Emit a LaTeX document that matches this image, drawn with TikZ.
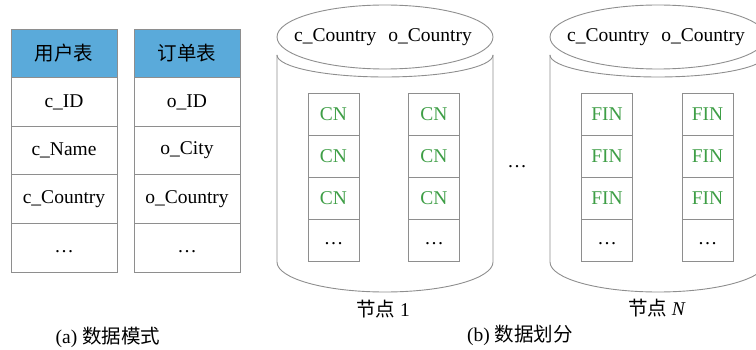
\documentclass[tikz,border=0pt]{standalone}
\usepackage{fontspec}
\setmainfont{Liberation Serif}
\newfontfamily\cjk{Noto Sans CJK SC}
\definecolor{hdrblue}{HTML}{5AAADA}
\definecolor{linegray}{HTML}{8E8E8E}
\definecolor{cngreen}{HTML}{3E9E46}
\tikzset{
  base/.style={font=\fontsize{19.5}{23}\selectfont, inner sep=0pt},
  cell/.style={base, draw=linegray, line width=0.9pt, minimum width=106pt, minimum height=48.6pt},
  hcell/.style={cell, fill=hdrblue},
  pcell/.style={base, draw=linegray, line width=0.9pt, minimum width=51pt, minimum height=42pt},
  gtext/.style={text=cngreen},
  cyl/.style={draw=linegray, line width=0.9pt},
  dots/.style={base, yshift=-3.5pt},
  lbl/.style={base}
}
\begin{document}
\begin{tikzpicture}[x=1pt,y=-1pt]
\useasboundingbox (0,0) rectangle (756,350);
\clip (0,0) rectangle (756,350);
% table 1
\node[hcell] (u0) at (64,53.3) {\cjk 用户表};
\node[cell] (u1) at (64,101.9) {c\_ID};
\node[cell] (u2) at (64,150.5) {c\_Name};
\node[cell] (u3) at (64,199.1) {c\_Country};
\node[cell] (u4) at (64,247.7) {};
\node[dots] (u4d) at (u4.center) {…};
% table 2
\node[hcell] (o0) at (187,53.3) {\cjk 订单表};
\node[cell] (o1) at (187,101.9) {o\_ID};
\node[cell] (o2) at (187,150.5) {o\_City};
\node[cell] (o3) at (187,199.1) {o\_Country};
\node[cell] (o4) at (187,247.7) {};
\node[dots] (o4d) at (o4.center) {…};
% cylinder 1
\draw[cyl] (277,55) -- (277,262) arc[start angle=180, end angle=360, x radius=108pt, y radius=30pt] -- (493,55);
\draw[cyl] (277,55) arc[start angle=180, end angle=360, x radius=108pt, y radius=22pt];
\draw[cyl] (385,37) ellipse [x radius=108pt, y radius=32pt];
\node[base] (lid1) at (383,37) {c\_Country\hspace{12pt}o\_Country};
\foreach \c/\x in {a/333.5,b/434}{
  \node[pcell,gtext] (p1\c1) at (\x,114) {CN};
  \node[pcell,gtext] (p1\c2) at (\x,156) {CN};
  \node[pcell,gtext] (p1\c3) at (\x,198) {CN};
  \node[pcell] (p1\c4) at (\x,240) {};
  \node[dots] (p1\c4d) at (p1\c4.center) {…};
}
% cylinder N
\draw[cyl] (550,55) -- (550,262) arc[start angle=180, end angle=360, x radius=108pt, y radius=30pt] -- (766,55);
\draw[cyl] (550,55) arc[start angle=180, end angle=360, x radius=108pt, y radius=22pt];
\draw[cyl] (658,37) ellipse [x radius=108pt, y radius=32pt];
\node[base] (lidN) at (656,37) {c\_Country\hspace{12pt}o\_Country};
\foreach \c/\x in {a/607,b/707.5}{
  \node[pcell,gtext] (pN\c1) at (\x,114) {FIN};
  \node[pcell,gtext] (pN\c2) at (\x,156) {FIN};
  \node[pcell,gtext] (pN\c3) at (\x,198) {FIN};
  \node[pcell] (pN\c4) at (\x,240) {};
  \node[dots] (pN\c4d) at (pN\c4.center) {…};
}
\node[dots] (mid) at (517,163) {…};
% labels
\node[lbl] (n1) at (383,309) {{\cjk 节点} 1};
\node[lbl] (nN) at (657,308) {{\cjk 节点} \textit{N}};
\node[lbl] (capa) at (108,337) {(a) {\cjk 数据模式}};
\node[lbl] (capb) at (520,335) {(b) {\cjk 数据划分}};
\end{tikzpicture}
\end{document}
